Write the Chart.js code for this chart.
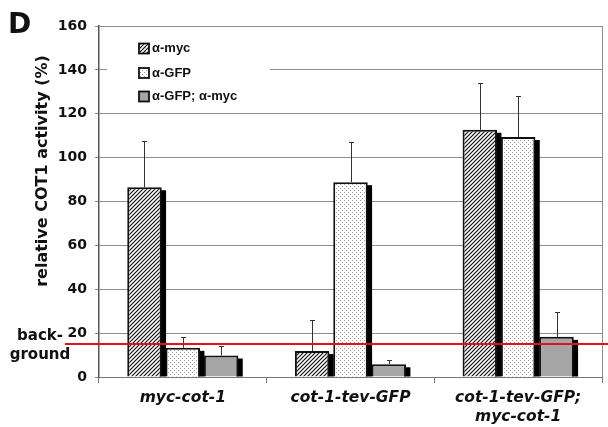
<!DOCTYPE html>
<html>
<head>
<meta charset="utf-8">
<script src="https://cdn.jsdelivr.net/npm/chart.js@4/dist/chart.umd.min.js"></script>
<style>
  body { margin: 0; background: #fff; }
  #wrap { width: 608px; height: 427px; }
</style>
</head>
<body>
<div id="wrap"><canvas id="barChart" width="608" height="427"></canvas></div>
<script>
// datos
const categories = [["myc-cot-1"], ["cot-1-tev-GFP"], ["cot-1-tev-GFP;", "myc-cot-1"]];
const seriesNames = ["α-myc", "α-GFP", "α-GFP; α-myc"];
const antiMyc = [86.5, 11.8, 112.7];
const antiMycErr = [21.2, 14.2, 21.3];
const antiGfp = [13.3, 88.8, 109.4];
const antiGfpErr = [5.0, 18.5, 18.6];
const antiBoth = [9.8, 5.8, 18.3];
const antiBothErr = [4.2, 1.9, 11.4];
const yTicks = [0, 20, 40, 60, 80, 100, 120, 140, 160];
const backgroundLevel = 15;

const FONT = "DejaVu Sans";
const CAT_PCT = 0.686;
const BAR_PCT = 0.9;

// patrones de relleno
function makeTile(size, draw) {
  const c = document.createElement("canvas");
  c.width = size; c.height = size;
  const g = c.getContext("2d");
  g.fillStyle = "#fff";
  g.fillRect(0, 0, size, size);
  draw(g);
  return document.createElement("canvas").getContext("2d").createPattern(c, "repeat");
}
const hatch = makeTile(4, (g) => {
  g.strokeStyle = "#111";
  g.lineWidth = 1.2;
  g.beginPath();
  g.moveTo(-1, 5); g.lineTo(5, -1);
  g.moveTo(-3, 3); g.lineTo(3, -3);
  g.moveTo(1, 7); g.lineTo(7, 1);
  g.stroke();
});
const dots = makeTile(4, (g) => {
  g.fillStyle = "#9a9a9a";
  g.fillRect(0, 0, 1, 1);
  g.fillRect(2, 2, 1, 1);
});
const grey = "#a5a5a5";

const errors = [antiMycErr, antiGfpErr, antiBothErr];

// sombra negra a la derecha de cada barra (se pinta antes que las barras)
const barShadow = {
  id: "barShadow",
  beforeDatasetsDraw(chart) {
    const ctx = chart.ctx;
    const xs = chart.scales.x;
    const slot = (xs.getPixelForValue(1) - xs.getPixelForValue(0)) * CAT_PCT / 3;
    ctx.save();
    ctx.fillStyle = "#000";
    chart.data.datasets.forEach((ds, i) => {
      chart.getDatasetMeta(i).data.forEach((bar) => {
        const right = bar.x + bar.width / 2;
        const end = bar.x - bar.width / 2 + slot;
        ctx.fillRect(right - 2, bar.y + 3, end - right + 2.5, bar.base - bar.y - 3);
      });
    });
    ctx.restore();
  },
};

// barras de error (solo hacia arriba)
const errorBars = {
  id: "errorBars",
  afterDatasetsDraw(chart) {
    const ctx = chart.ctx;
    const y = chart.scales.y;
    ctx.save();
    ctx.strokeStyle = "#333";
    ctx.lineWidth = 1;
    chart.data.datasets.forEach((ds, i) => {
      const meta = chart.getDatasetMeta(i);
      meta.data.forEach((bar, j) => {
        const top = Math.round(y.getPixelForValue(ds.data[j] + errors[i][j])) + 0.5;
        const x = Math.round(bar.x) + 0.5;
        ctx.beginPath();
        ctx.moveTo(x, bar.y);
        ctx.lineTo(x, top);
        ctx.moveTo(x - 2.5, top);
        ctx.lineTo(x + 2.5, top);
        ctx.stroke();
      });
    });
    ctx.restore();
  },
};

// linea de fondo, leyenda y textos sueltos
const extras = {
  id: "extras",
  afterDraw(chart) {
    const ctx = chart.ctx;
    const area = chart.chartArea;
    const y = chart.scales.y;
    ctx.save();

    // borde derecho
    ctx.strokeStyle = "#8c8c8c";
    ctx.lineWidth = 1;
    ctx.beginPath();
    ctx.moveTo(Math.round(area.right) + 0.5, area.top);
    ctx.lineTo(Math.round(area.right) + 0.5, area.bottom);
    ctx.stroke();

    // leyenda
    ctx.fillStyle = "#fff";
    ctx.fillRect(107, area.top + 1, 163, 84);
    const fills = [hatch, dots, grey];
    const rows = [48.5, 73, 96.5];
    ctx.font = "bold 13px 'Liberation Sans'";
    ctx.textBaseline = "middle";
    rows.forEach((ry, i) => {
      ctx.fillStyle = fills[i];
      ctx.fillRect(139, ry - 5, 10, 10);
      ctx.strokeStyle = "#111";
      ctx.lineWidth = 1.8;
      ctx.strokeRect(139, ry - 5, 10, 10);
      ctx.fillStyle = "#111";
      ctx.fillText(seriesNames[i], 152, ry);
    });

    // linea roja de fondo
    const by = y.getPixelForValue(backgroundLevel);
    ctx.strokeStyle = "#e0101e";
    ctx.lineWidth = 2;
    ctx.beginPath();
    ctx.moveTo(65, by);
    ctx.lineTo(608, by);
    ctx.stroke();

    ctx.fillStyle = "#111";
    ctx.font = "bold 15px " + FONT;
    ctx.textAlign = "center";
    ctx.fillText("back-", 40, 336);
    ctx.fillText("ground", 40, 355);

    // titulo del eje y
    ctx.save();
    ctx.translate(43, 171);
    ctx.rotate(-Math.PI / 2);
    ctx.font = "bold 16px " + FONT;
    ctx.fillText("relative COT1 activity (%)", 0, 0);
    ctx.restore();

    // letra del panel
    ctx.textAlign = "left";
    ctx.textBaseline = "alphabetic";
    ctx.font = "bold 28px " + FONT;
    ctx.fillText("D", 8, 33);

    ctx.restore();
  },
};

const common = {
  borderColor: "#111",
  borderWidth: { top: 2, left: 2, right: 2, bottom: 0 },
  borderSkipped: "start",
  barPercentage: BAR_PCT,
  categoryPercentage: CAT_PCT,
};

new Chart(document.getElementById("barChart").getContext("2d"), {
  type: "bar",
  data: {
    labels: categories,
    datasets: [
      { label: seriesNames[0], data: antiMyc, backgroundColor: hatch, ...common },
      { label: seriesNames[1], data: antiGfp, backgroundColor: dots, ...common },
      { label: seriesNames[2], data: antiBoth, backgroundColor: grey, ...common },
    ],
  },
  options: {
    responsive: false,
    animation: false,
    layout: { padding: { top: 26, right: 6, left: 0, bottom: 0 } },
    plugins: {
      legend: { display: false },
      tooltip: { enabled: false },
    },
    scales: {
      x: {
        offset: true,
        grid: { drawOnChartArea: false, drawTicks: true, tickLength: 6, color: "#777", offset: true },
        border: { color: "#777", width: 1 },
        ticks: {
          color: "#111",
          padding: 6,
          maxRotation: 0,
          font: { family: FONT, size: 15.5, weight: "bold", style: "italic", lineHeight: 1.2 },
        },
        afterFit(scale) { scale.height = 50; },
      },
      y: {
        min: 0,
        max: 160,
        afterBuildTicks(scale) { scale.ticks = yTicks.map((v) => ({ value: v })); },
        grid: { color: "#8c8c8c", tickLength: 4, lineWidth: 1 },
        border: { color: "#555", width: 1.5 },
        ticks: {
          color: "#111",
          padding: 8,
          font: { family: FONT, size: 14, weight: "bold" },
        },
        afterFit(scale) { scale.width = 99; },
      },
    },
  },
  plugins: [barShadow, errorBars, extras],
});
</script>
</body>
</html>
